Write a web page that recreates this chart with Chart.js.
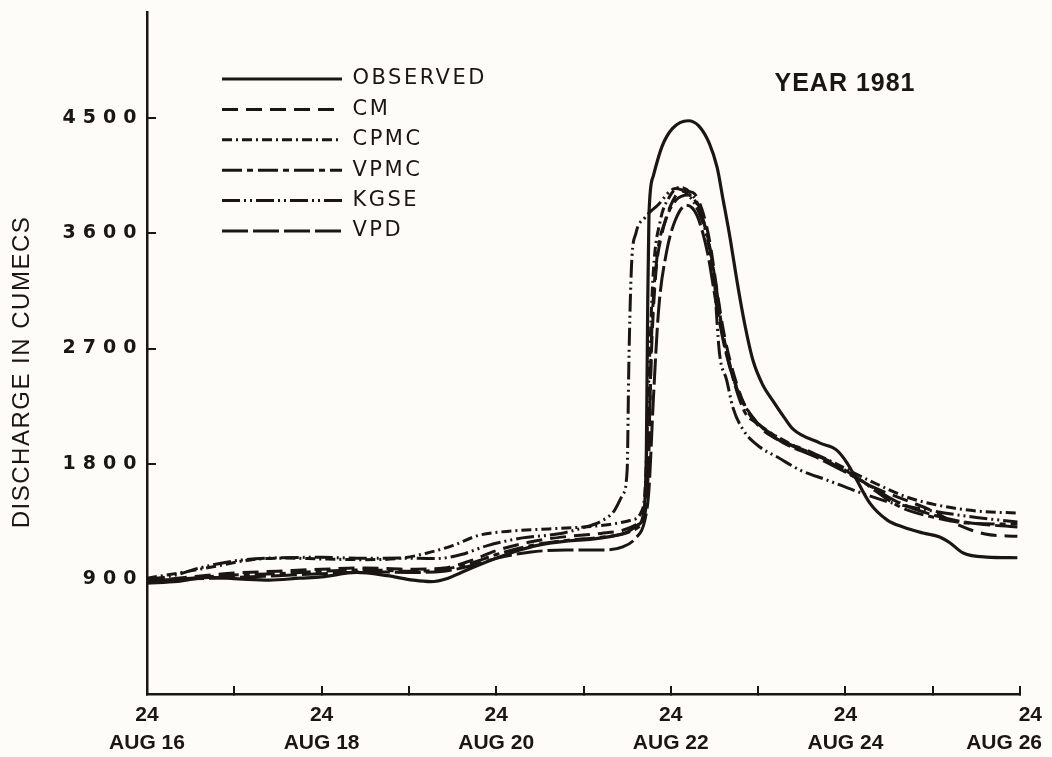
<!DOCTYPE html>
<html>
<head>
<meta charset="utf-8">
<title>Discharge hydrograph 1981</title>
<script src="https://cdn.jsdelivr.net/npm/chart.js@4.4.1/dist/chart.umd.min.js"></script>
<style>
  html, body { margin: 0; padding: 0; background: #fdfcf8; }
  #wrap { width: 1052px; height: 757px; position: relative; }
</style>
</head>
<body>
<div id="wrap"><canvas id="hydro"></canvas></div>
<script>
// days counted from AUG 16, 24 hrs ; discharge in cumecs
const dateLabels = ['AUG 16', 'AUG 18', 'AUG 20', 'AUG 22', 'AUG 24', 'AUG 26'];
const yTickValues = [900, 1800, 2700, 3600, 4500];

const observed = [[0, 867], [0.35, 880], [0.7, 912], [1.05, 900], [1.4, 890], [1.75, 905], [2.0, 915],
  [2.4, 950], [2.75, 925], [3.05, 890], [3.25, 878], [3.45, 905], [3.6, 950], [3.9, 1035], [4.2, 1110],
  [4.5, 1165], [4.8, 1195], [5.1, 1210], [5.3, 1230], [5.5, 1265], [5.62, 1320], [5.69, 1420], [5.72, 1900],
  [5.735, 3000], [5.75, 3750], [5.8, 4050], [5.9, 4280], [6.02, 4420], [6.2, 4480], [6.32, 4440],
  [6.44, 4305], [6.53, 4117], [6.6, 3860], [6.68, 3560], [6.76, 3220], [6.85, 2880], [6.94, 2610],
  [7.05, 2420], [7.17, 2290], [7.3, 2160], [7.4, 2070], [7.71, 1961], [7.9, 1906], [8.02, 1805], [8.13, 1672],
  [8.28, 1492], [8.48, 1359], [8.66, 1305], [8.89, 1258], [9.08, 1227], [9.2, 1180], [9.35, 1102],
  [9.62, 1070], [9.97, 1065]];

const cm = [[0, 880], [0.5, 915], [1.0, 945], [1.5, 960], [2.0, 975], [2.5, 985], [3.0, 975], [3.4, 985],
  [3.7, 1040], [4.0, 1120], [4.4, 1190], [4.8, 1230], [5.2, 1255], [5.45, 1280], [5.62, 1330], [5.7, 1420],
  [5.74, 1800], [5.78, 2700], [5.83, 3300], [5.9, 3600], [6.0, 3820], [6.12, 3930], [6.25, 3920],
  [6.36, 3780], [6.45, 3520], [6.53, 3150], [6.6, 2850], [6.7, 2550], [6.85, 2250], [7.0, 2100],
  [7.17, 2008], [7.63, 1883], [8.0, 1740], [8.32, 1617], [8.63, 1531], [9.0, 1430], [9.3, 1320],
  [9.6, 1250], [9.97, 1232]];

const cpmc = [[0, 905], [0.4, 950], [0.8, 1000], [1.2, 1050], [1.6, 1062], [2.0, 1055], [2.5, 1050],
  [2.9, 1060], [3.2, 1100], [3.5, 1160], [3.8, 1240], [4.2, 1275], [4.6, 1290], [5.0, 1305], [5.3, 1325],
  [5.55, 1360], [5.66, 1420], [5.71, 1650], [5.75, 2500], [5.8, 3300], [5.88, 3700], [5.98, 3880],
  [6.1, 3960], [6.22, 3920], [6.35, 3760], [6.46, 3420], [6.55, 3000], [6.65, 2650], [6.78, 2350],
  [6.95, 2150], [7.3, 1980], [7.8, 1830], [8.3, 1660], [8.7, 1540], [9.1, 1470], [9.5, 1430], [9.97, 1414]];

const vpmc = [[0, 875], [0.5, 905], [1.0, 930], [1.5, 940], [2.0, 960], [2.5, 970], [3.0, 960], [3.4, 975],
  [3.7, 1020], [4.0, 1090], [4.4, 1160], [4.8, 1200], [5.2, 1225], [5.45, 1250], [5.62, 1300], [5.7, 1390],
  [5.745, 1800], [5.78, 2800], [5.84, 3400], [5.94, 3700], [6.06, 3860], [6.2, 3900], [6.32, 3800],
  [6.43, 3550], [6.52, 3180], [6.6, 2800], [6.72, 2450], [6.85, 2200], [6.99, 2117], [7.33, 1961],
  [7.86, 1805], [8.17, 1672], [8.63, 1461], [9.0, 1383], [9.39, 1336], [9.97, 1328]];

const kgse = [[0, 895], [0.3, 925], [0.6, 985], [1.0, 1040], [1.4, 1062], [2.0, 1068], [2.5, 1060],
  [2.9, 1062], [3.3, 1058], [3.6, 1090], [3.9, 1160], [4.3, 1220], [4.7, 1250], [5.0, 1300], [5.2, 1350],
  [5.35, 1430], [5.45, 1560], [5.5, 1750], [5.52, 2600], [5.55, 3350], [5.6, 3600], [5.7, 3720],
  [5.85, 3820], [6.05, 3950], [6.2, 3900], [6.33, 3750], [6.44, 3500], [6.5, 3230], [6.53, 2900],
  [6.56, 2650], [6.64, 2453], [6.71, 2242], [6.83, 2063], [7.02, 1930], [7.22, 1852], [7.48, 1750],
  [7.79, 1672], [8.09, 1594], [8.5, 1500], [9.0, 1430], [9.5, 1380], [9.97, 1345]];

const vpd = [[0, 885], [0.5, 900], [1.0, 910], [1.5, 925], [2.0, 940], [2.5, 955], [3.0, 950], [3.4, 960],
  [3.7, 1000], [4.0, 1060], [4.4, 1110], [4.8, 1125], [5.2, 1125], [5.45, 1150], [5.6, 1220], [5.7, 1350],
  [5.75, 1600], [5.8, 2300], [5.86, 3000], [5.95, 3450], [6.05, 3700], [6.18, 3820], [6.3, 3740],
  [6.42, 3450], [6.52, 3050], [6.62, 2700], [6.75, 2400], [6.92, 2180], [7.2, 2000], [7.7, 1840],
  [8.2, 1660], [8.6, 1500], [9.0, 1400], [9.4, 1340], [9.97, 1305]];

const ink = '#1b1613';

function series(label, pts, dash, width) {
  return {
    label: label,
    data: pts.map(p => ({ x: p[0], y: p[1] })),
    borderColor: ink,
    backgroundColor: ink,
    borderWidth: width,
    borderDash: dash,
    pointRadius: 0,
    fill: false,
    tension: 0.4,
    cubicInterpolationMode: 'monotone'
  };
}

// legend sits inside the plot, move it to where the original has it
const placeLegend = {
  id: 'placeLegend',
  afterLayout(chart) {
    const lg = chart.legend;
    const area = chart.chartArea;
    lg.left = area.left + 65.6;
    lg.top = area.top + 47.1;
    if (!lg._spaced) {
      const d = lg.draw;
      lg.draw = function () { this.ctx.save(); this.ctx.letterSpacing = '2.5px'; d.call(this); this.ctx.restore(); };
      lg._spaced = true;
    }
    const y = chart.scales.y;
    if (!y._spaced) {
      const dl = y.drawLabels, dt = y.drawTitle;
      y.drawLabels = function (a) { this.ctx.save(); this.ctx.letterSpacing = '7px'; dl.call(this, a); this.ctx.restore(); };
      y.drawTitle = function () { this.ctx.save(); this.ctx.letterSpacing = '1.5px'; this.ctx.translate(0, 19); dt.call(this); this.ctx.restore(); };
      y._spaced = true;
    }
    // last date label is pulled in so it stays on the page
    const x = chart.scales.x;
    if (!x._edge) {
      const cli = x._computeLabelItems;
      x._computeLabelItems = function (a) {
        const items = cli.call(this, a);
        const last = items[items.length - 1];
        if (last) {
          last.options.textAlign = 'right';
          last.options.translation[0] = this.chart.width - 10;
        }
        return items;
      };
      x._edge = true;
    }
  }
};

const yearLabel = {
  id: 'yearLabel',
  afterDraw(chart) {
    const ctx = chart.ctx;
    const area = chart.chartArea;
    ctx.save();
    ctx.font = 'bold 25px "Liberation Sans"';
    ctx.letterSpacing = '1px';
    ctx.fillStyle = ink;
    ctx.textAlign = 'center';
    ctx.textBaseline = 'middle';
    ctx.fillText('YEAR 1981', area.right - 175, area.top + 72);
    ctx.restore();
  }
};

new Chart(document.getElementById('hydro'), {
  type: 'line',
  data: {
    datasets: [
      series('OBSERVED', observed, [], 3.2),
      series('CM', cm, [16, 8], 3),
      series('CPMC', cpmc, [10, 4, 2, 4], 3),
      series('VPMC', vpmc, [20, 5, 6, 5], 3),
      series('KGSE', kgse, [18, 4, 2, 4, 2, 4], 3),
      series('VPD', vpd, [26, 5], 3)
    ]
  },
  options: {
    responsive: true,
    maintainAspectRatio: false,
    animation: false,
    layout: { padding: { left: 0, right: 32, top: 12, bottom: 0 } },
    plugins: {
      legend: {
        position: 'chartArea',
        align: 'start',
        labels: {
          usePointStyle: true,
          pointStyle: 'line',
          pointStyleWidth: 120,
          padding: 9.4,
          color: ink,
          font: { family: '"DejaVu Sans"', size: 21 },
          generateLabels(chart) {
            const items = Chart.defaults.plugins.legend.labels.generateLabels(chart);
            items.forEach(it => {
              const ds = chart.data.datasets[it.datasetIndex];
              it.lineDash = ds.borderDash;
              it.lineWidth = ds.borderWidth;
              it.strokeStyle = ds.borderColor;
            });
            return items;
          }
        }
      },
      tooltip: { enabled: false }
    },
    scales: {
      x: {
        type: 'linear',
        min: 0,
        max: 10,
        grid: { display: true, drawOnChartArea: false, drawTicks: true, tickLength: -8, lineWidth: 2, color: ink },
        border: { display: true, width: 2.5, color: ink },
        ticks: {
          stepSize: 1,
          autoSkip: false,
          maxRotation: 0,
          padding: 15,
          color: ink,
          font: { family: '"Liberation Sans"', weight: 'bold', size: 21, lineHeight: 1.33 },
          callback: v => (v % 2 === 0 ? ['24', dateLabels[v / 2]] : '')
        },
        afterFit(s) { s.height = 63; s.paddingLeft = 0; s.paddingRight = 0; }
      },
      y: {
        min: 0,
        max: 5330,
        grid: { display: true, drawOnChartArea: false, drawTicks: true, tickLength: -9, lineWidth: 2, color: ink },
        border: { display: true, width: 2.5, color: ink },
        afterBuildTicks(s) { s.ticks = [0].concat(yTickValues).map(v => ({ value: v })); },
        ticks: {
          padding: 12.5,
          color: ink,
          font: { family: '"DejaVu Sans"', weight: 'bold', size: 19 },
          callback: v => (v === 0 ? '' : String(v))
        },
        title: {
          display: true,
          text: 'DISCHARGE IN CUMECS',
          color: ink,
          padding: { top: 8, bottom: 0 },
          font: { family: '"Liberation Sans"', size: 24 }
        },
        afterFit(s) { s.width = 147; s.paddingTop = 0; s.paddingBottom = 0; }
      }
    }
  },
  plugins: [placeLegend, yearLabel]
});
</script>
</body>
</html>
